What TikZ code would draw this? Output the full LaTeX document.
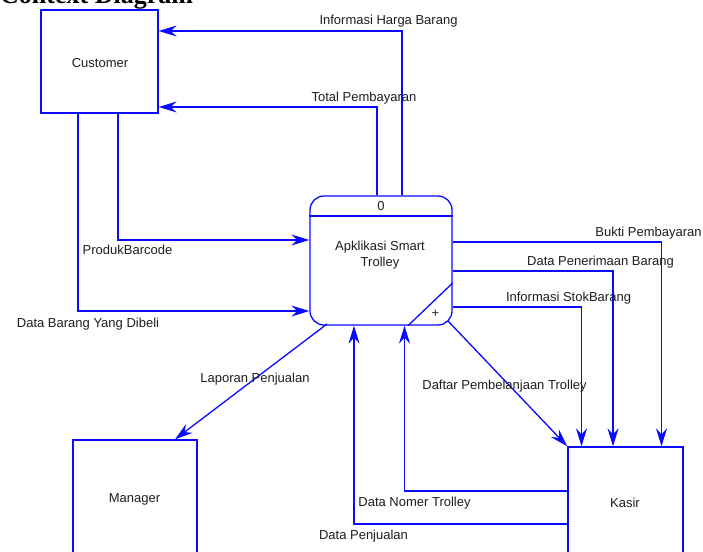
\documentclass[tikz,border=0pt]{standalone}
\usepackage{fontspec}
\setmainfont{Liberation Sans}
\newfontfamily\titlefont{Liberation Serif}
\usepackage{tikz}
\usetikzlibrary{arrows.meta}
\usetikzlibrary{positioning}
\usepackage{xcolor}
\definecolor{dfdblue}{RGB}{10,10,255}
\definecolor{dfdtext}{RGB}{30,30,30}
\tikzset{
  entity/.style={draw=dfdblue, line width=1.3pt, rectangle, inner sep=0pt},
  procbox/.style={draw=dfdblue, line width=1.3pt, rectangle, rounded corners=14pt, inner sep=0pt, minimum width=142pt, minimum height=129pt},
  flow/.style={draw=dfdblue, line width=1.3pt, -{Stealth[length=18pt,width=11pt,inset=6pt]}},
  lbl/.style={text=dfdtext, font=\fontsize{13}{16}\selectfont, inner sep=0pt, anchor=base},
}
\begin{document}
\begin{tikzpicture}[x=1pt,y=-1pt]
\clip (0,0) rectangle (703,551);
\fill[white] (0,0) rectangle (703,551);
\node[text=black, font=\titlefont\bfseries\fontsize{26}{28}\selectfont, inner sep=0pt, anchor=base west] (title) at (0,3.5) {Context Diagram};
% external entities and the process
\node[entity, minimum width=117pt, minimum height=103pt] (cust) at (99.5,61.5) {};
\node[lbl] (custtxt) at (100,67.5) {Customer};
\node[entity, minimum width=124pt, minimum height=114pt] (mgr) at (135,497) {};
\node[lbl] (mgrtxt) at (134.5,502) {Manager};
\node[entity, minimum width=115pt, minimum height=110pt] (kasir) at (625.5,502) {};
\node[lbl] (kasirtxt) at (625,507) {Kasir};
\node[procbox] (proc) at (381,260.5) {};
\node[lbl, align=center] (proctxt) at (380,266.5) {Apklikasi Smart\\Trolley};
\node[lbl] (procid) at (381,210.5) {0};
\draw[dfdblue, line width=1.3pt] (proc.west |- 0,216) -- (proc.east |- 0,216);
\draw[dfdblue, line width=1.3pt] (proc.south -| 408,0) -- (proc.east |- 0,283);
\node[lbl] (plus) at (435.5,317) {+};
% data flows
\draw[flow] (proc.north -| 402,0) |- (cust.east |- 0,31);
\node[lbl] (l1) at (388.5,25) {Informasi Harga Barang};
\draw[flow] (proc.north -| 377,0) |- (cust.east |- 0,107);
\node[lbl] (l2) at (364,101) {Total Pembayaran};
\draw[flow] (cust.south -| 118,0) |- (proc.west |- 0,240);
\node[lbl] (l3) at (127.5,254) {ProdukBarcode};
\draw[flow] (cust.south -| 78,0) |- (proc.west |- 0,311);
\node[lbl] (l4) at (88,327) {Data Barang Yang Dibeli};
\draw[flow] (proc.east |- 0,242) -| (kasir.north -| 661.5,0);
\node[lbl] (l5) at (648.5,236) {Bukti Pembayaran};
\draw[flow] (proc.east |- 0,271) -| (kasir.north -| 613,0);
\node[lbl] (l6) at (600.5,265) {Data Penerimaan Barang};
\draw[flow] (proc.east |- 0,307) -| (kasir.north -| 581.5,0);
\node[lbl] (l7) at (568.5,301) {Informasi StokBarang};
\draw[flow] (448,321) -- (kasir.north west);
\node[lbl] (l8) at (504.5,389) {Daftar Pembelanjaan Trolley};
\draw[flow] (327,324) -- (mgr.north -| 175,0);
\node[lbl] (l9) at (255,382) {Laporan Penjualan};
\draw[flow] (kasir.west |- 0,491) -| (proc.south -| 404.5,0);
\node[lbl] (l10) at (414.5,506) {Data Nomer Trolley};
\draw[flow] (kasir.west |- 0,524) -| (proc.south -| 354,0);
\node[lbl] (l11) at (363.5,539) {Data Penjualan};
\end{tikzpicture}
\end{document}
